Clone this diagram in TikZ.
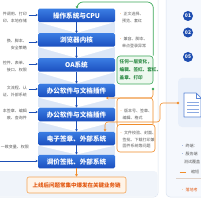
\documentclass[tikz,border=0pt]{standalone}
\usepackage{fontspec}
\setmainfont{Noto Sans CJK SC}
\usetikzlibrary{arrows.meta}
\definecolor{boxtop}{HTML}{3B7DE3}
\definecolor{boxbot}{HTML}{1B4FBF}
\definecolor{band}{HTML}{DCE7F7}
\definecolor{arrblue}{HTML}{1D4FB5}
\definecolor{txtgray}{HTML}{5A5A5A}
\definecolor{orng}{HTML}{F08C2A}
\definecolor{orngtxt}{HTML}{E2570F}
\definecolor{orngfill}{HTML}{FFF4E8}
\definecolor{grn}{HTML}{3DA85A}
\definecolor{grnfill}{HTML}{EEF8EF}
\definecolor{grntxt}{HTML}{2E8B45}
\definecolor{panelline}{HTML}{D9E2EF}
\definecolor{panelfill}{HTML}{F5F8FD}
\definecolor{tint}{HTML}{F0F4FA}
\definecolor{circ}{HTML}{1E4DB0}
\definecolor{iconfill}{HTML}{E8EFFA}
\definecolor{iconline}{HTML}{5B86D6}
\begin{document}
\begin{tikzpicture}[x=1pt,y=-1pt,
  bbox/.style={rounded corners=1.5pt, top color=boxtop, bottom color=boxbot, draw=none,
    minimum width=77pt, minimum height=13.5pt, inner sep=0pt, text=white,
    font=\fontsize{6.6}{7}\selectfont\bfseries},
  ltxt/.style={anchor=north east, align=right, text=txtgray, inner sep=0pt,
    font=\fontsize{4}{6.5}\selectfont},
  rtxt/.style={anchor=north west, align=left, text=txtgray, inner sep=0pt,
    font=\fontsize{4}{6.5}\selectfont},
  gtxt/.style={anchor=north west, align=left, text=grntxt, inner sep=0pt,
    font=\fontsize{4.6}{8}\selectfont\bfseries},
  darr/.style={-{Stealth[length=2.3pt,width=2.6pt]}, line width=0.8pt, draw=arrblue},
  larr/.style={-{Stealth[length=2.2pt,width=2.4pt]}, line width=0.5pt, draw=arrblue},
  oarr/.style={-{Stealth[length=2.6pt,width=2.8pt]}, line width=0.6pt, draw=orng, rounded corners=3pt},
  garr/.style={-{Stealth[length=2.6pt,width=2.8pt]}, line width=0.7pt, draw=grn, rounded corners=6pt},
  oframe/.style={draw=orng, line width=0.6pt, rounded corners=3pt},
  num/.style={circle, fill=circ, text=white, minimum size=10pt, inner sep=0pt,
    font=\fontsize{5}{5}\selectfont\bfseries},
]
\useasboundingbox (0,0) rectangle (200,200);
% panels
\draw[panelline, fill=white, rounded corners=4pt, line width=0.5pt] (-10,-10) rectangle (158,197);
\fill[tint, rounded corners=4pt] (-10,171) rectangle (157.7,196.7);
\draw[panelline, fill=panelfill, rounded corners=4pt, line width=0.5pt] (166,-10) rectangle (215,197);
% light band between boxes
\foreach \a/\b in {22/33, 47/58, 72/83.5, 97.5/107.5, 121.5/131.5, 145.5/154.5}{
  \fill[band] (38,\a) rectangle (115,\b);
  \fill[white] (38,\a) -- (115,\a) -- (76.5,\b) -- cycle;
}
% boxes
\node[bbox] (b1) at (76.5,15.5) {操作系统与CPU};
\node[bbox] (b2) at (76.5,40) {浏览器内核};
\node[bbox] (b3) at (76.5,65) {OA系统};
\node[bbox] (b4) at (76.5,90.5) {办公软件与文档插件};
\node[bbox] (b5) at (76.5,114.5) {办公软件与文档插件};
\node[bbox] (b6) at (76.5,138.5) {电子签章、外部系统};
\node[bbox] (b7) at (76.5,161.5) {调价签批、外部系统};
\foreach \p/\q in {b1/b2,b2/b3,b3/b4,b4/b5,b5/b6,b6/b7}{\draw[darr] (\p) -- (\q);}
% left texts
\node[ltxt] (l1) at (27,12) {件调用、打印\\印、本地存储};
\node[ltxt] (l2) at (27,39) {换、脚本、\\安全策略};
\node[ltxt] (l3) at (27,61) {控件、表单、\\接口、权限};
\node[ltxt] (l4) at (27,86) {文流程、认\\证、外部系统};
\node[ltxt] (l5) at (27,109) {本签章、编辑\\痕、查询件};
\node[ltxt] (l6) at (29,144.5) {一致变量、权限};
\coordinate (a1) at (28.5,15);
\coordinate (a2) at (28.5,42);
\coordinate (a3) at (28.5,64);
\coordinate (a4) at (28.5,89);
\coordinate (a5) at (28.5,112);
\coordinate (a6) at (-5,161);
\foreach \c/\b in {a1/b1,a2/b2,a3/b3,a4/b4,a5/b5,a6/b7}{\draw[larr] (\c) -- (\c -| \b.west);}
% right texts
\node[rtxt] (r1) at (118.5,12) {{\color{orng}•} 正文选择、\\\hspace{3.4pt}预览、套红};
\node[rtxt] (r2) at (118.5,37) {{\color{orng}•} 兼容、脚本、\\\hspace{3.4pt}单点登录异常};
% green box
\node[draw=grn, fill=grnfill, line width=0.6pt, rounded corners=3pt, minimum width=36pt,
  minimum height=28pt, inner sep=0pt] (g) at (135,70) {};
\node[gtxt] (gt) at (119.5,59) {任何一层变化，\\编辑、签红、套红、\\盖章、打印};
\coordinate (gtop) at (77,2);
\draw[garr] (g.north east) |- (gtop) -- (gtop |- b1.north);
% orange frames
\draw[oframe] (117,98) rectangle (153,127);
\node[rtxt] (r5) at (119,109) {{\color{orng}•} 版本号、签章、\\\hspace{3.4pt}编辑、格式};
\draw[oframe, fill=white] (117,124.5) rectangle (155,152);
\node[rtxt] (r6) at (119,131) {{\color{orng}•} 文件校验、封面、\\\hspace{3.4pt}签批、下载打印兼\\\hspace{3.4pt}固件系统等问题};
\coordinate (gdot) at (153,89);
\coordinate (oa1) at (153,98);
\coordinate (oa2) at (106,98);
\draw[oarr] (gdot) -- (oa1) -- (oa2);
\fill[grn] (gdot) circle (1.4pt);
% icon panel
\node[fill=iconfill, rounded corners=4pt, minimum width=34pt, minimum height=49pt, inner sep=0pt] (ip) at (195,102.5) {};
\draw[iconline, fill=white, line width=0.7pt, line join=round] (184,93) -- (196,93) -- (201,98) -- (201,117) -- (184,117) -- cycle;
\draw[iconline, line width=0.6pt] (196,93) -- (196,98) -- (201,98);
\foreach \yy in {102,105.5,109,112.5}{\draw[iconline!70, line width=0.6pt] (187,\yy) -- (199,\yy);}
\coordinate (od) at (178,103);
\coordinate (ob1) at (160,103);
\coordinate (ob2) at (160,122);
\coordinate (ob3) at (105,122);
\draw[oarr] (od) -- (ob1) -- (ob2) -- (ob3) -- (ob3 |- b6.north);
\fill[orng] (od) circle (1.3pt);
% bottom orange box
\node[draw=orng!80, fill=orngfill, line width=0.6pt, rounded corners=2pt, minimum width=99pt,
  minimum height=16pt, inner sep=0pt, text=orngtxt, font=\fontsize{5.5}{6}\selectfont\bfseries] (bot) at (76.5,185) {上线后问题常集中爆发在关键业务链};
\draw[oarr] (b7) -- (bot);
% right panel numbers
\node[num] (n1) at (188,16) {01};
\node[num] (n2) at (188,32.5) {02};
\node[num] (n3) at (188,57) {05};
% right panel bullets
\node[rtxt] (p1) at (180.5,143.5) {{\color{circ}•} 终端：};
\node[rtxt] (p2) at (180.5,151.5) {{\color{circ}•} 服务端};
\node[rtxt] (p3) at (184,159.5) {测试覆盖};
\draw[orng, line width=0.9pt] (179.5,172) -- (186,172);
\node[rtxt] (p4) at (191,169.5) {缩短};
\draw[panelline!80!orng, line width=0.4pt] (176,178) -- (212,178);
\node[rtxt, text=orngtxt] (p5) at (180.5,187.5) {{\color{orng}•} 落地考};
\end{tikzpicture}
\end{document}
